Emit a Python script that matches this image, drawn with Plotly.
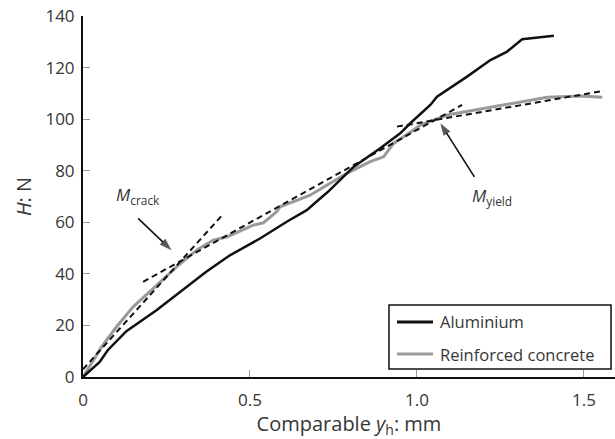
import plotly.graph_objects as go

# Load-displacement curves (comparable y_h in mm, H in N)
alu_x = [0.0, 0.05, 0.074, 0.13, 0.22, 0.35, 0.369, 0.44, 0.53, 0.61, 0.67, 0.71, 0.735,
         0.81, 0.89, 0.95, 0.98, 1.04, 1.06, 1.15, 1.22, 1.27, 1.315, 1.41]
alu_y = [0.0, 5.8, 10.4, 17.8, 25.9, 38.8, 40.8, 47.2, 53.7, 60.2, 64.7, 69.2, 72.0,
         81.5, 88.7, 94.5, 98.4, 105.5, 108.7, 116.5, 122.9, 126.2, 131.0, 132.3]

rc_x = [0.0, 0.055, 0.10, 0.15, 0.21, 0.28, 0.34, 0.39, 0.43, 0.51, 0.54, 0.58, 0.59,
        0.68, 0.79, 0.86, 0.90, 0.93, 0.99, 1.01, 1.09, 1.39, 1.49, 1.555]
rc_y = [0.0, 11.6, 19.4, 27.2, 34.3, 42.7, 49.2, 53.1, 54.3, 58.9, 59.8, 64.1, 66.0,
        70.5, 79.0, 83.5, 85.4, 90.6, 95.8, 97.7, 101.6, 108.5, 109.0, 108.5]

# Idealised stiffness lines: initial, post-crack and post-yield
init_x = [0.0, 0.42]
init_y = [3.0, 63.2]
crack_x = [0.18, 1.135]
crack_y = [36.9, 105.5]
yield_x = [0.94, 1.56]
yield_y = [97.1, 111.0]

# Pointer arrows (tail -> head) for the crack and yield points
crack_arrow_x = [0.165, 0.265]
crack_arrow_y = [61.5, 49.2]
yield_arrow_x = [1.172, 1.07]
yield_arrow_y = [77.6, 98.4]

x_ticks = [0, 0.5, 1.0, 1.5]
x_tick_text = ["0", "0.5", "1.0", "1.5"]
y_ticks = [0, 20, 40, 60, 80, 100, 120, 140]

series_names = ["Aluminium", "Reinforced concrete"]
series_colors = ["#111111", "#9a9a9a"]

FONT = "Open Sans"
TXT = "#363636"

fig = go.Figure()
fig.add_trace(go.Scatter(x=rc_x, y=rc_y, mode="lines", name=series_names[1],
                         line=dict(color=series_colors[1], width=3)))
fig.add_trace(go.Scatter(x=alu_x, y=alu_y, mode="lines", name=series_names[0],
                         line=dict(color=series_colors[0], width=2.5)))
for xs, ys in [(init_x, init_y), (crack_x, crack_y), (yield_x, yield_y)]:
    fig.add_trace(go.Scatter(x=xs, y=ys, mode="lines",
                             line=dict(color="#111111", width=2, dash="6px,4px")))

for xs, ys in [(crack_arrow_x, crack_arrow_y), (yield_arrow_x, yield_arrow_y)]:
    fig.add_trace(go.Scatter(x=xs, y=ys, mode="lines+markers",
                             line=dict(color="#111111", width=1.6),
                             marker=dict(symbol=["circle", "arrow"], size=[0, 13],
                                         angleref="previous", color="#111111",
                                         line=dict(width=0))))

fig.add_annotation(x=0.164, y=70.2, xref="x", yref="y", showarrow=False,
                   text="<i>M</i><sub>crack</sub>",
                   font=dict(family=FONT, size=17, color=TXT))
fig.add_annotation(x=1.224, y=70.0, xref="x", yref="y", showarrow=False,
                   text="<i>M</i><sub>yield</sub>",
                   font=dict(family=FONT, size=17, color=TXT))

# Boxed key in the lower-right corner of the plot
box = dict(x0=0.5752, x1=0.9925, y0=0.0222, y1=0.1994)
fig.add_shape(type="rect", xref="paper", yref="paper", **box,
              line=dict(color="#111111", width=1.5), fillcolor="white", layer="above")
for name, color, yk in zip(series_names, series_colors, [0.1524, 0.0637]):
    fig.add_shape(type="line", xref="paper", yref="paper", x0=0.5902, x1=0.6579,
                  y0=yk, y1=yk, line=dict(color=color, width=3), layer="above")
    fig.add_annotation(x=0.6673, y=yk, xref="paper", yref="paper", text=name,
                       showarrow=False, xanchor="left", yanchor="middle",
                       font=dict(family=FONT, size=16.5, color=TXT))

fig.update_layout(
    width=615, height=439,
    margin=dict(l=83, r=0, t=16, b=62),
    paper_bgcolor="white", plot_bgcolor="white",
    font=dict(family=FONT, size=17, color=TXT),
    showlegend=False,
    xaxis=dict(range=[0, 1.593], tickvals=x_ticks, ticktext=x_tick_text,
               showgrid=False, zeroline=False, showline=True, linecolor="#111111",
               linewidth=2, ticks="inside", ticklen=7, tickcolor="#999999",
               tickwidth=1, ticklabelstandoff=7, automargin=False,
               title=dict(text="Comparable <i>y</i><sub>h</sub>: mm", standoff=20)),
    yaxis=dict(range=[0, 140], tickvals=y_ticks, showgrid=False, zeroline=False,
               showline=True, linecolor="#111111", linewidth=2, ticks="inside",
               ticklen=7, tickcolor="#999999", tickwidth=1, ticklabelstandoff=3,
               automargin=False, title=dict(text="<i>H</i>: N", standoff=8)),
)

fig.write_html("out.html")
